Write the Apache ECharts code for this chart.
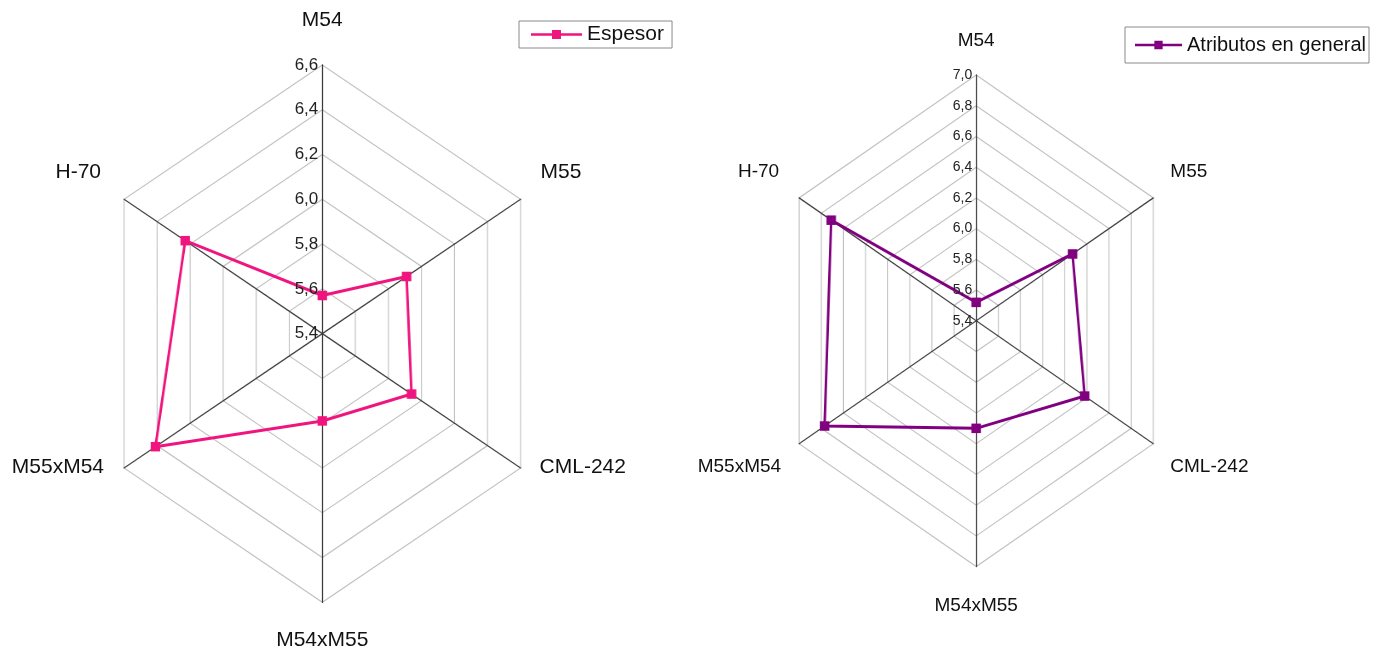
<!DOCTYPE html>
<html><head><meta charset="utf-8">
<script src="https://cdn.jsdelivr.net/npm/echarts@6/dist/echarts.min.js"></script>
<style>
html,body{margin:0;padding:0;background:#fff}
#wrap{position:relative;width:1375px;height:655px;overflow:hidden;background:#fff}
#a1,#a2,#b{position:absolute;top:0;height:655px}
#a1{left:0;width:775px;transform:scaleX(0.852);transform-origin:0 0}
#a2{left:660px;width:859px;transform:scaleX(0.832);transform-origin:0 0}
#b{left:0;width:1375px}
</style>
</head><body><div id="wrap"><div id="a1"></div><div id="a2"></div><div id="b"></div></div>
<script>
// indicator order as drawn (top, then counter-clockwise)
const categories = ['M54', 'H-70', 'M55xM54', 'M54xM55', 'CML-242', 'M55'];
const espesor =    [5.57, 6.23, 6.41, 5.79, 5.94, 5.91];
const atributos =  [5.52, 6.71, 6.77, 6.10, 6.38, 6.27];
const leftRange = [5.4, 6.6];
const rightRange = [5.4, 7.0];
const tickStep = 0.2;
const leftName = 'Espesor';
const rightName = 'Atributos en general';

// ---- layout / style ----
const font = 'Liberation Sans, Arial, sans-serif';
const pink = '#f0157e', purple = '#800080';
const fmt = v => Number(v).toFixed(1).replace('.', ',');
const L = {s: 0.852, cx: 322.3, cy: 333.6, r: 268.7, offX: 0};
const R = {s: 0.832, cx: 976.2, cy: 320.8, r: 245.8, offX: 660};
// label paddings [top,right,bottom,left] per indicator
const padsL = [[0,0,169,0],[0,23,94,0],[38,20,0,0],[155,0,0,0],[38,0,0,19],[0,0,94,20]];
const padsR = [[0,0,152,0],[0,20,93,0],[88,18,0,0],[161,0,0,0],[88,0,0,17],[0,0,93,17]];

function gridRadar(g, range) {
  return {
    center: [(g.cx - g.offX) / g.s, g.cy], radius: g.r, startAngle: 90, shape: 'polygon',
    splitNumber: Math.round((range[1] - range[0]) / tickStep),
    indicator: categories.map(n => ({name: n, min: range[0], max: range[1]})),
    axisName: {show: false},
    splitLine: {lineStyle: {color: '#bdbdbd', width: 1.1}},
    splitArea: {show: false},
    axisLine: {lineStyle: {color: '#3a3a3a', width: 1.3}},
    axisTick: {show: false}, axisLabel: {show: false}
  };
}
function geomChart(el, g, range, values, color, name) {
  const c = echarts.init(document.getElementById(el));
  c.setOption({
    animation: false, backgroundColor: 'transparent',
    radar: gridRadar(g, range),
    series: [{type: 'radar', name: name, symbol: 'rect', symbolSize: [9.5 / g.s, 9.5],
      itemStyle: {color: color}, lineStyle: {color: color, width: 3},
      data: [{value: values, name: name}]}]
  });
}
geomChart('a1', L, leftRange, espesor, pink, leftName);
geomChart('a2', R, rightRange, atributos, purple, rightName);

// ---- text layer ----
function nameRadar(g, range, fs, pads) {
  const rt = g.r * g.s;
  const rich = {};
  categories.forEach((c, i) => { rich['n' + i] = {fontSize: fs, fontFamily: font, color: '#111', padding: pads[i]}; });
  return {
    center: [g.cx, g.cy], radius: rt, startAngle: 90, shape: 'polygon', nameGap: 0,
    indicator: categories.map(n => ({name: n, min: range[0], max: range[1]})),
    axisName: {color: '#111', fontSize: fs, fontFamily: font, verticalAlign: 'middle',
      formatter: n => '{n' + categories.indexOf(n) + '|' + n + '}', rich: rich},
    splitLine: {show: false}, splitArea: {show: false}, axisLine: {show: false},
    axisTick: {show: false}, axisLabel: {show: false}
  };
}
function rAxis(idx, range, fs) {
  return {polarIndex: idx, type: 'value', min: range[0], max: range[1], interval: tickStep,
    axisLine: {show: false}, axisTick: {show: false}, splitLine: {show: false},
    axisLabel: {inside: true, formatter: fmt, fontSize: fs, fontFamily: font, color: '#222', margin: 4}};
}
const legendIcon = 'path://M0,3.2 L21,3.2 L21,0 L30,0 L30,3.2 L51,3.2 L51,5.8 L30,5.8 L30,9 L21,9 L21,5.8 L0,5.8 Z';
const b = echarts.init(document.getElementById('b'));
b.setOption({
  animation: false, backgroundColor: 'transparent',
  legend: [
    {data: [{name: leftName, itemStyle: {color: pink, opacity: 1}}], left: 519, top: 21,
     padding: [3, 8, 3, 12], itemWidth: 51, itemHeight: 9, itemGap: 5,
     icon: legendIcon, borderColor: '#8a8a8a', borderWidth: 1, borderRadius: 0, selectedMode: false,
     textStyle: {fontSize: 21, fontFamily: font, color: '#111', padding: [0, 0, 0, 0]}},
    {data: [{name: rightName, itemStyle: {color: purple, opacity: 1}}], left: 1125, top: 27,
     padding: [8, 3, 8, 10], itemWidth: 47, itemHeight: 9, itemGap: 5,
     icon: legendIcon, borderColor: '#8a8a8a', borderWidth: 1, borderRadius: 0, selectedMode: false,
     textStyle: {fontSize: 20, fontFamily: font, color: '#111'}}
  ],
  radar: [nameRadar(L, leftRange, 21, padsL), nameRadar(R, rightRange, 19, padsR)],
  polar: [{center: [L.cx, L.cy], radius: L.r}, {center: [R.cx, R.cy], radius: R.r}],
  angleAxis: [
    {polarIndex: 0, type: 'value', startAngle: 90, show: false},
    {polarIndex: 1, type: 'value', startAngle: 90, show: false}
  ],
  radiusAxis: [rAxis(0, leftRange, 17), rAxis(1, rightRange, 14)],
  series: [
    {type: 'radar', radarIndex: 0, name: leftName, symbol: 'none', silent: true,
     itemStyle: {color: pink}, lineStyle: {opacity: 0}, data: [{value: espesor, name: leftName}]},
    {type: 'radar', radarIndex: 1, name: rightName, symbol: 'none', silent: true,
     itemStyle: {color: purple}, lineStyle: {opacity: 0}, data: [{value: atributos, name: rightName}]}
  ]
});
</script></body></html>
